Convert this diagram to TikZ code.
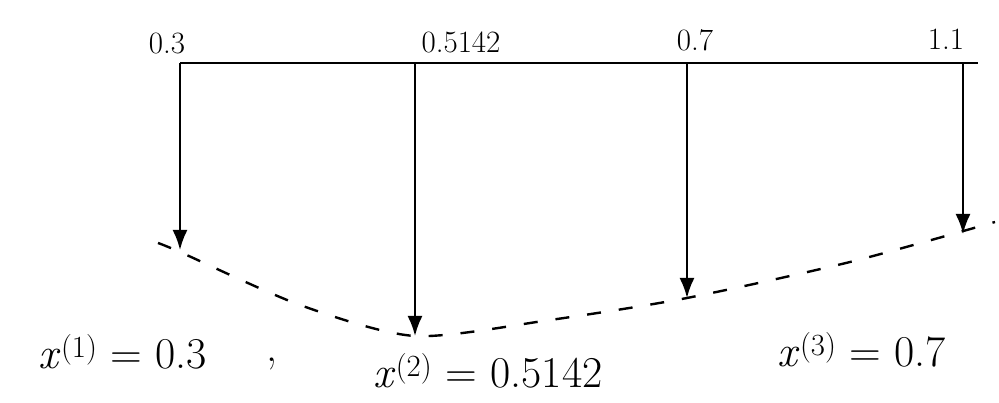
\documentclass[tikz,border=0pt]{standalone}
\usepackage{fontspec}
\usetikzlibrary{arrows.meta}
\newcommand{\xsup}[1]{\textit{x}\textsuperscript{(#1)}}
\begin{document}
\begin{tikzpicture}[x=1pt,y=-1pt,
  axis/.style={line width=2.2pt},
  drop/.style={line width=2.2pt,-{Latex[length=20pt,width=15pt]}},
  curve/.style={line width=2.4pt,dash pattern=on 14pt off 18pt},
  toplab/.style={font=\fontsize{31}{34}\selectfont,inner sep=1pt},
  botlab/.style={font=\fontsize{44}{48}\selectfont,inner sep=1pt}]
\useasboundingbox (0,0) rectangle (999,403);
% axis
\coordinate (L) at (180,63);
\coordinate (R) at (978,63);
\draw[axis] (L) -- (R);
\coordinate (t1) at (180,63);
\coordinate (t2) at (415,63);
\coordinate (t3) at (687,63);
\coordinate (t4) at (963,63);
\node[toplab] (l1) at (167,44) {0.3};
\node[toplab] (l2) at (461,42) {0.5142};
\node[toplab] (l3) at (695,40) {0.7};
\node[toplab] (l4) at (946,39) {1.1};
% curve points
\coordinate (c1) at (180,250);
\coordinate (c2) at (415,336);
\coordinate (c3) at (687,298);
\coordinate (c4) at (963,234);
\draw[curve] plot[smooth,tension=0.45] coordinates {(158,243) (180,252) (300,305) (415,336) (550,320) (687,298) (850,262) (995,222)};
% drops
\draw[drop] (t1) -- (c1);
\draw[drop] (t2) -- (c2);
\draw[drop] (t3) -- (c3);
\draw[drop] (t4) -- (c4);
% bottom labels
\node[botlab] (b1) at (123,352) {\xsup{1} = 0.3};
\node[botlab] (bc) at (272,364) {,};
\node[botlab] (b2) at (488,371) {\xsup{2} = 0.5142};
\node[botlab] (b3) at (862,350) {\xsup{3} = 0.7};
\end{tikzpicture}
\end{document}
